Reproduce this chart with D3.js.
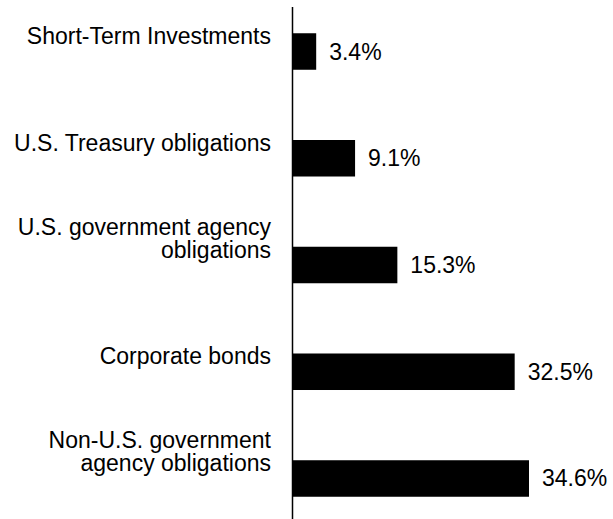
<!DOCTYPE html>
<html>
<head>
<meta charset="utf-8">
<script src="https://cdn.jsdelivr.net/npm/d3@7"></script>
<style>
  body { margin: 0; background: #fff; }
  text { font-family: "Liberation Sans", Arial, sans-serif; fill: #000; }
</style>
</head>
<body>
<div id="chart-area"></div>
<script>
// data
const categories = [
	['Short-Term Investments'],
	['U.S. Treasury obligations'],
	['U.S. government agency', 'obligations'],
	['Corporate bonds'],
	['Non-U.S. government', 'agency obligations']
]
const values = [3.4, 9.1, 15.3, 32.5, 34.6]
const valueLabels = ['3.4%', '9.1%', '15.3%', '32.5%', '34.6%']

const W = 613
const H = 519
const AXIS_X = 293
const FONT = 23
const LINE = 23

const svg = d3.select('#chart-area')
.append('svg')
.attr('width', W)
.attr('height', H)

const rows = d3.range(values.length)

const x = d3.scaleLinear()
.domain([0, 34.6])
.range([AXIS_X, 529])

const y = d3.scaleBand()
.domain(rows)
.range([33.25, 496.75])
.paddingInner(0.658)
.paddingOuter(0)

// bars
svg.selectAll('rect.bar')
.data(rows)
.enter().append('rect')
.attr('class', 'bar')
.attr('x', x(0))
.attr('y', i => y(i))
.attr('width', i => x(values[i]) - x(0))
.attr('height', y.bandwidth())
.attr('fill', '#000')

// category labels, last line sits just below bar top
const labels = svg.selectAll('text.cat')
.data(rows)
.enter().append('text')
.attr('class', 'cat')
.attr('text-anchor', 'end')
.attr('font-size', FONT + 'px')

labels.each(function(i) {
	const lines = categories[i]
	const last = y(i) + 11
	d3.select(this).selectAll('tspan')
	.data(lines)
	.enter().append('tspan')
	.attr('x', 271)
	.attr('y', (d, j) => last - (lines.length - 1 - j) * LINE)
	.text(d => d)
})

// value labels
svg.selectAll('text.val')
.data(rows)
.enter().append('text')
.attr('class', 'val')
.attr('x', i => x(values[i]) + 13)
.attr('y', i => y(i) + y.bandwidth() / 2 + 8)
.attr('font-size', FONT + 'px')
.text(i => valueLabels[i])

// vertical axis line
svg.append('line')
.attr('x1', AXIS_X - 0.5)
.attr('x2', AXIS_X - 0.5)
.attr('y1', 7)
.attr('y2', H)
.attr('stroke', '#000')
.attr('stroke-width', 1.5)
</script>
</body>
</html>
